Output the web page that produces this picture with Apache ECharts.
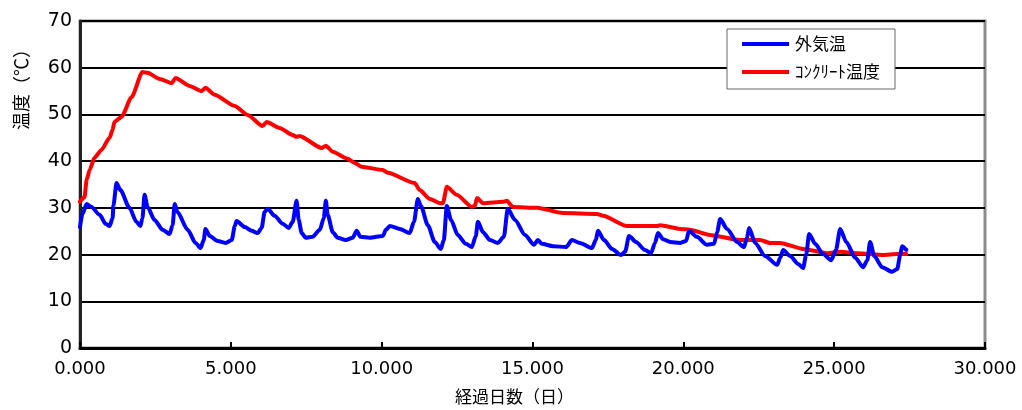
<!DOCTYPE html>
<html><head><meta charset="utf-8">
<script src="https://cdn.jsdelivr.net/npm/echarts@6/dist/echarts.min.js"></script>
<style>html,body{margin:0;padding:0;background:#fff}#c{width:1022px;height:410px}</style>
</head><body><div id="c"></div>
<script>
const seriesNames = ['外気温', 'ｺﾝｸﾘｰﾄ温度'];
const xTitle = '経過日数（日）';
const yTitle = '温度（℃）';

const outdoorDays = [0,0.08,0.22,0.38,0.65,0.85,0.98,1.08,1.11,1.21,1.34,1.64,1.87,2.0,2.07,2.14,2.24,2.47,2.74,2.97,3.07,3.14,3.23,3.57,3.83,4.0,4.1,4.16,4.3,4.56,4.83,5.03,5.13,5.19,5.46,5.69,5.89,6.02,6.12,6.22,6.45,6.72,6.92,7.05,7.18,7.25,7.35,7.48,7.71,7.95,8.08,8.15,8.21,8.38,8.54,8.81,9.04,9.17,9.3,9.6,10.04,10.14,10.27,10.6,10.93,11.07,11.2,11.3,11.53,11.76,11.96,12.06,12.16,12.3,12.52,12.79,12.99,13.12,13.19,13.36,13.59,13.85,14.05,14.18,14.42,14.75,15.05,15.18,15.31,15.68,16.11,16.31,16.57,16.97,17.1,17.17,17.37,17.64,17.93,18.07,18.2,18.43,18.73,18.93,19.06,19.16,19.33,19.56,19.9,20.09,20.19,20.45,20.78,21.02,21.12,21.22,21.45,21.78,22.01,22.11,22.18,22.38,22.71,23.11,23.21,23.31,23.54,23.81,23.97,24.07,24.17,24.37,24.63,24.9,25.06,25.2,25.4,25.7,25.96,26.1,26.19,26.33,26.59,26.92,27.09,27.19,27.25,27.39];
const outdoorTemp = [25.9,28.7,30.8,30.2,28.5,26.6,26.1,27.8,30.6,35.3,33.8,30.0,27.0,26.1,27.8,32.8,30.2,27.4,25.3,24.4,26.3,30.8,29.1,25.3,22.5,21.4,23.1,25.5,24.0,22.9,22.5,23.1,26.1,27.2,25.9,25.1,24.6,25.7,29.1,29.8,28.3,26.6,25.7,27.0,31.5,27.4,24.6,23.6,23.8,25.3,27.8,31.5,28.5,24.8,23.6,23.1,23.6,25.1,23.8,23.6,24.0,25.3,26.1,25.5,24.6,27.0,31.9,30.4,26.3,22.7,21.2,23.1,30.4,27.4,24.2,22.3,21.6,24.0,27.0,24.8,23.1,22.5,23.8,29.8,27.4,24.2,22.1,23.1,22.3,21.8,21.6,23.1,22.5,21.4,23.1,25.1,23.1,21.2,19.9,20.6,24.0,22.7,21.0,20.3,22.5,24.6,23.3,22.7,22.5,22.9,25.1,23.8,22.1,22.3,24.8,27.6,25.5,22.7,21.6,23.6,25.7,22.5,19.7,17.8,19.3,21.0,19.7,18.0,17.1,19.9,24.4,22.3,20.1,18.8,21.0,25.5,22.7,19.3,17.3,18.8,22.7,19.7,17.3,16.3,16.9,19.9,21.8,21.0];

const concreteDays = [0,0.15,0.22,0.32,0.48,0.71,0.98,1.08,1.14,1.38,1.71,2.07,2.24,2.64,3.04,3.17,3.63,4.03,4.16,4.46,5.13,5.56,6.05,6.19,6.62,7.05,7.18,7.28,8.01,8.15,8.38,8.87,9.11,9.34,10.04,10.2,11.1,11.26,11.6,11.93,12.03,12.16,12.49,12.99,13.09,13.16,13.36,14.02,14.15,14.35,15.15,16.0,17.14,17.34,18.13,19.13,19.23,19.89,20.22,20.88,21.88,22.54,22.88,23.21,23.97,24.77,25.2,25.76,26.62,27.09,27.39];
const concreteTemp = [31.3,32.3,36.0,38.1,40.7,42.4,45.0,46.7,48.4,49.5,53.7,59.1,58.9,57.6,56.7,57.8,56.1,55.0,55.7,54.2,51.8,49.9,47.5,48.4,47.1,45.6,45.2,45.4,42.8,43.3,42.0,40.5,39.6,38.8,38.1,37.5,35.3,33.8,31.9,31.0,31.0,34.5,32.8,30.2,30.4,32.1,31.0,31.3,31.5,30.2,30.0,28.9,28.7,28.3,26.1,26.1,26.3,25.5,25.3,24.2,23.1,23.1,22.5,22.5,21.2,20.3,20.6,20.3,19.9,20.1,20.1];

const pair = (xs, ys) => xs.map((x, i) => [x, ys[i]]);
const FONT = "'DejaVu Sans', 'Noto Sans CJK JP', sans-serif";
const chart = echarts.init(document.getElementById('c'), null, {renderer: 'canvas'});
chart.setOption({
  animation: false,
  backgroundColor: '#fff',
  grid: {left: 80, right: 37, top: 21, bottom: 62, show: true, borderColor: '#8c8c8c', borderWidth: 3, backgroundColor: 'transparent'},
  legend: {
    data: seriesNames, orient: 'vertical', left: 727, top: 29,
    backgroundColor: '#fff', borderColor: '#666', borderWidth: 1,
    padding: [5, 15, 7, 15], itemGap: 8, itemWidth: 47, itemHeight: 4, icon: 'rect',
    textStyle: {fontFamily: "'Noto Sans CJK JP', sans-serif", fontSize: 17, color: '#000', lineHeight: 20, padding: [0, 0, 0, 1]}
  },
  xAxis: {
    type: 'value', min: 0, max: 30, interval: 5,
    axisLine: {lineStyle: {color: '#000', width: 3}},
    axisTick: {inside: true, length: 6, lineStyle: {color: '#000', width: 2}},
    axisLabel: {formatter: v => v.toFixed(3), fontFamily: FONT, fontSize: 18, color: '#000', margin: 12},
    splitLine: {show: false}
  },
  yAxis: {
    type: 'value', min: 0, max: 70, interval: 10,
    axisLine: {show: true, lineStyle: {color: '#222', width: 3}},
    axisTick: {show: false},
    axisLabel: {fontFamily: FONT, fontSize: 19, color: '#000', margin: 8},
    splitLine: {lineStyle: {color: '#000', width: 2}}
  },
  graphic: [
    {type: 'text', left: 455, top: 388, style: {text: xTitle, font: "17px 'Noto Sans CJK JP', sans-serif", fill: '#000'}},
    {type: 'text', x: 12, y: 130, rotation: Math.PI / 2, style: {text: yTitle, font: "18px 'Noto Sans CJK JP', sans-serif", fill: '#000'}}
  ],
  series: [
    {name: seriesNames[1], type: 'line', data: pair(concreteDays, concreteTemp), showSymbol: false, smooth: 0.2, smoothMonotone: 'x',
     lineStyle: {color: '#ff0000', width: 4, join: 'round', cap: 'round'}, itemStyle: {color: '#ff0000'}},
    {name: seriesNames[0], type: 'line', data: pair(outdoorDays, outdoorTemp), showSymbol: false, smooth: 0.25, smoothMonotone: 'x',
     lineStyle: {color: '#0000ff', width: 4, join: 'round', cap: 'round'}, itemStyle: {color: '#0000ff'}}
  ]
});
</script></body></html>
